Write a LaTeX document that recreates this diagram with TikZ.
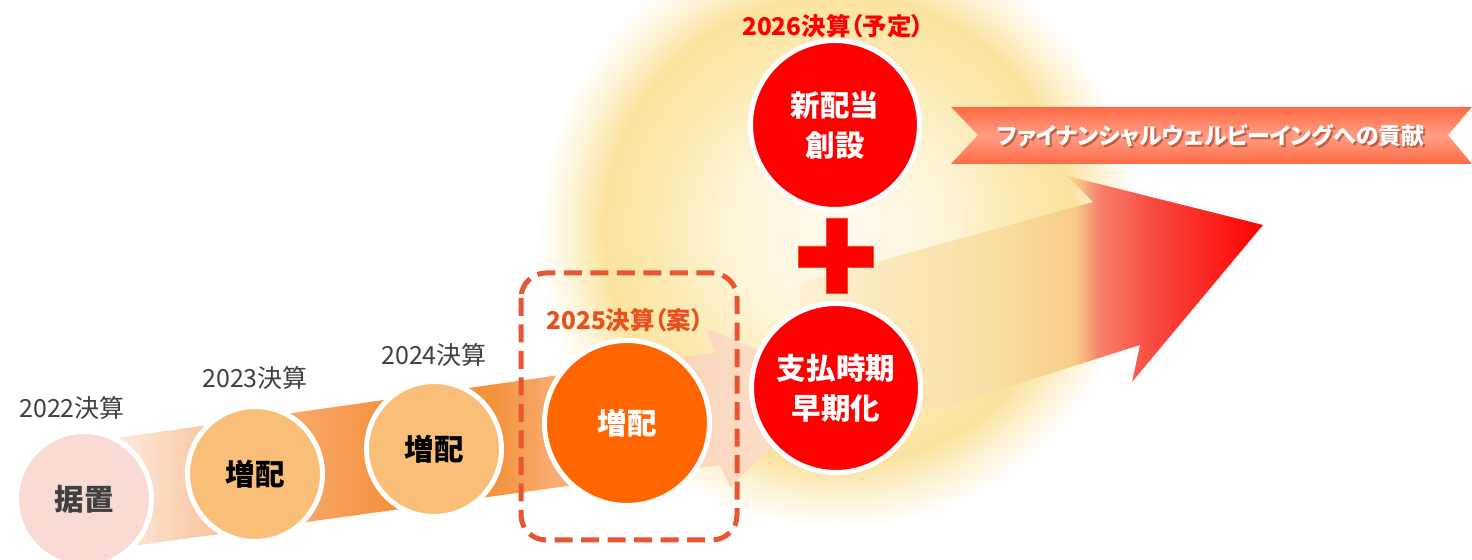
\documentclass[tikz,border=0pt]{standalone}
\usepackage{fontspec}
\newfontfamily\jp[RawFeature=+palt]{Noto Sans CJK JP}
\definecolor{pinklight}{HTML}{FADAD4}
\definecolor{peach}{HTML}{F9BE78}
\definecolor{hotorange}{HTML}{FF6600}
\definecolor{darkgray}{HTML}{404040}
\definecolor{planorange}{HTML}{E8501E}
\definecolor{dashcol}{HTML}{E95532}
\definecolor{ribbondark}{HTML}{FF6A45}
\definecolor{ribbonlight}{HTML}{FF9E85}
\definecolor{ribbonshadow}{HTML}{7A1E08}
\definecolor{plusedge}{HTML}{E8501E}
% glow and band colours
\definecolor{glowa}{HTML}{FFFBF0}
\definecolor{glowb}{HTML}{FEF4D8}
\definecolor{glowc}{HTML}{FCEAB2}
\definecolor{glowd}{HTML}{FBE39E}
\definecolor{glowe}{HTML}{FDF1D0}
\definecolor{bnda}{HTML}{FCE8DC}
\definecolor{bndb}{HTML}{FAD0B0}
\definecolor{bndc}{HTML}{F7A96B}
\definecolor{bndd}{HTML}{F5923E}
\definecolor{bnde}{HTML}{F9AE74}
\definecolor{bndf}{HTML}{FBD7BE}
\definecolor{bndg}{HTML}{FCE2D2}
\definecolor{arra}{HTML}{FDF1D2}
\definecolor{arrb}{HTML}{F9DDA0}
\definecolor{arrc}{HTML}{F8CC88}
\definecolor{arrd}{HTML}{F6806A}
\definecolor{arre}{HTML}{F84C42}
\definecolor{arrf}{HTML}{FF0000}
\pgfdeclareradialshading{glow}{\pgfpoint{0bp}{0bp}}{color(0bp)=(glowa); color(9bp)=(glowb); color(15bp)=(glowc); color(19.5bp)=(glowd); color(22bp)=(glowe); color(25bp)=(white); color(50bp)=(white)}
\pgfdeclarehorizontalshading{bandone}{100bp}{color(0bp)=(bnda); color(29bp)=(bnda); color(33bp)=(bndb); color(40bp)=(bndc); color(46bp)=(bndd); color(53bp)=(bndd); color(57bp)=(bnde); color(66bp)=(bndf); color(75bp)=(bndg); color(100bp)=(bndg)}
\pgfdeclarehorizontalshading{bandtwo}{100bp}{color(0bp)=(arra); color(25bp)=(arra); color(46.6bp)=(arrb); color(54.7bp)=(arrc); color(57.4bp)=(arrd); color(62.8bp)=(arre); color(75bp)=(arrf); color(100bp)=(arrf)}
\tikzset{
  disc/.style={circle,draw=white,line width=0.1cm,inner sep=0pt,align=center,
    font=\jp\bfseries\fontsize{16.8}{22.8}\selectfont},
  smalldisc/.style={disc,minimum size=2.7cm},
  bigdisc/.style={disc,minimum size=3.38cm,fill=red,text=white},
  year/.style={inner sep=0pt,text=darkgray,font=\jp\fontsize{14.2}{16}\selectfont},
  plan/.style={inner sep=0pt,font=\jp\bfseries\fontsize{13.9}{16}\selectfont},
  ribbontext/.style={inner sep=0pt,font=\jp\bfseries\fontsize{13.1}{16}\selectfont},
}
\begin{document}
\begin{tikzpicture}[x=0.02cm,y=-0.02cm]
\useasboundingbox (0,0) rectangle (1472,560);
% glow behind 2026
\shade[shading=glow] (838,230) circle (6.0cm);
% band through the years
\shade[shading=bandone] (60,446) -- (715,353) -- (705,328) -- (837,383)
  -- (730,487) -- (720,465) -- (60,556) -- cycle;
% big arrow
\shade[shading=bandtwo] (800,283) -- (1093,202) -- (1067,176) -- (1263,225)
  -- (1132,382) -- (1140,345) -- (800,453) -- cycle;
% ribbon
\shade[top color=ribbondark,bottom color=ribbondark,middle color=ribbonlight]
  (951,107) -- (1472,107) -- (1448,135) -- (1472,164) -- (951,164) -- (978,135) -- cycle;
\node[ribbontext,text=ribbonshadow,opacity=.45] (wbs) at (1213,138) {ファイナンシャルウェルビーイングへの貢献};
\node[ribbontext,text=white] (wb) at (1211,136) {ファイナンシャルウェルビーイングへの貢献};
% 2025 box
\draw[dashcol,line width=0.1cm,rounded corners=0.5cm,dash pattern=on 0.36cm off 0.17cm]
  (521,273) rectangle (737,540);
% circles
\node[smalldisc,fill=pinklight,text=darkgray] (c22) at (84,499) {据置};
\node[smalldisc,fill=peach,text=black] (c23) at (255,474) {増配};
\node[smalldisc,fill=peach,text=black] (c24) at (434,449) {増配};
\node[disc,minimum size=3.3cm,fill=hotorange,text=white] (c25) at (627,423) {増配};
\node[bigdisc] (c26b) at (836,388) {支払時期\\早期化};
\node[bigdisc] (c26a) at (835,125) {新配当\\創設};
% plus
\filldraw[fill=red,draw=plusedge,line width=0.4pt] (826,218) -- (847,218) -- (847,246)
  -- (873,246) -- (873,267) -- (847,267) -- (847,293) -- (826,293) -- (826,267)
  -- (798,267) -- (798,246) -- (826,246) -- cycle;
% year labels
\node[year] (y22) at (72,408) {2022決算};
\node[year] (y23) at (255,378) {2023決算};
\node[year] (y24) at (434,355) {2024決算};
\node[plan,text=planorange] (y25) at (625,320) {2025決算（案）};
\node[plan,text=red] (y26) at (833,26) {2026決算（予定）};
\end{tikzpicture}
\end{document}
